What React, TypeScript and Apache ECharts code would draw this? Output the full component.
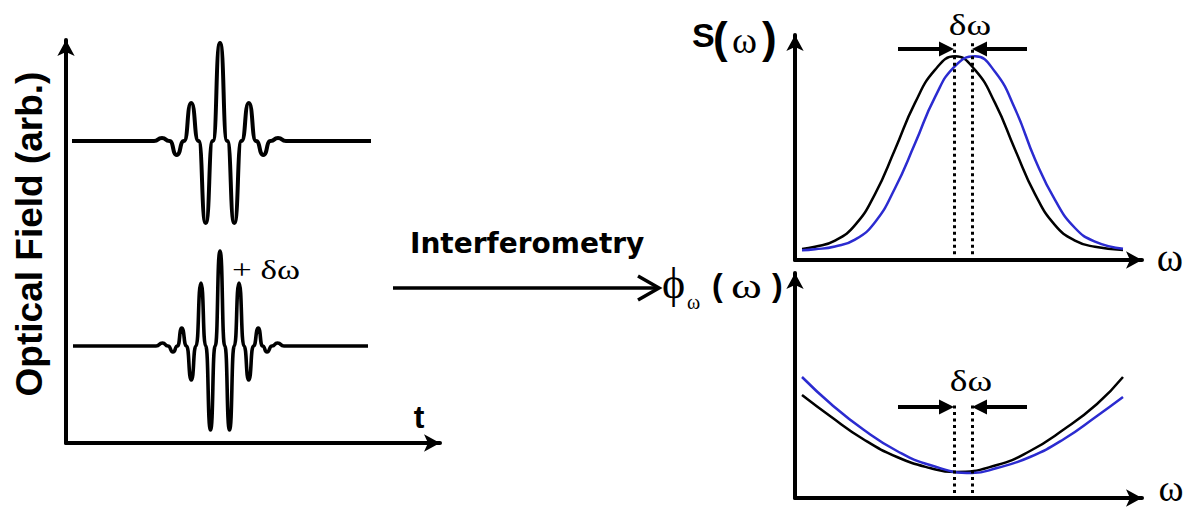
import React, { useEffect, useRef } from "react";
import * as echarts from "echarts";

// ---- Left panel: optical field pulses (t and field in arbitrary units) ----
const fieldTimeTop = [-14.8, -6.6, -5.8, -5.05, -4.33, -3.6, -2.88, -2.15, -1.43, -0.72, 0, 0.72, 1.43, 2.15, 2.88, 3.6, 4.33, 5.05, 5.8, 6.6, 15.1];
const fieldTop = [0, 0, 0.03, 0, -0.14, 0, 0.38, 0, -0.82, 0, 0.98, 0, -0.82, 0, 0.38, 0, -0.14, 0, 0.03, 0, 0];
const fieldTimeBottom = [-14.7, -6.4, -5.75, -5.2, -4.7, -4.25, -3.83, -3.35, -2.87, -2.4, -1.9, -1.43, -0.95, -0.48, 0, 0.48, 0.95, 1.43, 1.9, 2.4, 2.87, 3.35, 3.83, 4.25, 4.7, 5.2, 5.75, 6.4, 14.8];
const fieldBottom = [0, 0, 0.03, 0, -0.06, 0, 0.18, 0, -0.34, 0, 0.63, 0, -0.84, 0, 0.95, 0, -0.84, 0, 0.63, 0, -0.34, 0, 0.18, 0, -0.06, 0, 0.03, 0, 0];

// ---- Right top: spectra S(ω) ----
const omegaSpectrum = [0.7, 2, 4, 6, 8, 10, 12, 14, 16, 18, 20, 22, 24, 26, 28, 30, 32.8];
const spectrumRef = [0.057, 0.068, 0.1, 0.18, 0.34, 0.57, 0.81, 0.98, 1.05, 0.98, 0.81, 0.57, 0.34, 0.18, 0.1, 0.068, 0.052];
const spectrumShifted = [0.05, 0.055, 0.07, 0.105, 0.195, 0.37, 0.6, 0.84, 1.0, 1.05, 0.97, 0.78, 0.52, 0.31, 0.165, 0.095, 0.058];

// ---- Right bottom: spectral phase ϕω(ω) ----
const omegaPhaseRef = [0.7, 3.5, 6.8, 10.2, 13.5, 16.0, 20.2, 23.5, 26.8, 30.2, 32.8];
const phaseRef = [1.03, 0.82, 0.59, 0.41, 0.3, 0.26, 0.33, 0.47, 0.68, 0.94, 1.21];
const omegaPhaseShifted = [0.7, 3.6, 6.9, 10.2, 13.5, 17.7, 20.2, 23.5, 26.9, 30.2, 32.8];
const phaseShifted = [1.21, 0.94, 0.68, 0.47, 0.33, 0.25, 0.3, 0.41, 0.59, 0.82, 1.01];

// centre frequencies of the two pulses (δω between them)
const peakRef = 15.9;
const peakShifted = 17.7;

const BLUE = "#2b2bd0";
const SANS = '"Liberation Sans", Arial, sans-serif';
const SERIF = '"Liberation Serif", "Times New Roman", serif';
const VERD = '"DejaVu Sans", Verdana, sans-serif';

const zip = (xs: number[], ys: number[]) => xs.map((x, i) => [x, ys[i]]);

function arrowAxis(extra: any) {
  return {
    type: "value",
    axisLine: {
      show: true,
      onZero: false,
      symbol: ["none", "arrow"],
      symbolSize: [13, 16],
      lineStyle: { color: "#000", width: 4 },
    },
    axisTick: { show: false },
    axisLabel: { show: false },
    splitLine: { show: false },
    ...extra,
  };
}
function hiddenAxis(extra: any) {
  return { type: "value", show: false, splitLine: { show: false }, ...extra };
}

function txt(text: string, x: number, y: number, size: number, family: string, opts: any = {}) {
  const { weight = "normal", align = "left", scaleX = 1, rotation = 0 } = opts;
  return {
    type: "text",
    x,
    y,
    scaleX,
    rotation,
    silent: true,
    style: {
      text,
      fontSize: size,
      fontFamily: family,
      fontWeight: weight,
      fill: "#000",
      align,
      textAlign: align,
      verticalAlign: "middle",
      textVerticalAlign: "middle",
    },
  };
}

function buildOption() {
  const dotted = {
    silent: true,
    symbol: ["none", "none"],
    label: { show: false },
    itemStyle: { color: "#000" },
    lineStyle: { color: "#000", width: 3, type: [3, 3.5] },
  };
  const arrows = {
    silent: true,
    symbol: ["none", "triangle"],
    symbolSize: [15, 15],
    label: { show: false },
    itemStyle: { color: "#000" },
    lineStyle: { color: "#000", width: 4, type: "solid" },
  };
  const head = 0.75; // half arrow-head length in ω units
  return {
    animation: false,
    backgroundColor: "#fff",
    grid: [
      { left: 66, right: 752, top: 40, bottom: 65, outerBoundsMode: "none" },
      { left: 66, right: 760, top: 31, height: 220, outerBoundsMode: "none" },
      { left: 66, right: 760, top: 236, height: 220, outerBoundsMode: "none" },
      { left: 795, right: 50, top: 35, bottom: 248, outerBoundsMode: "none" },
      { left: 795, right: 50, top: 273, bottom: 10, outerBoundsMode: "none" },
    ],
    xAxis: [
      arrowAxis({ gridIndex: 0, min: 0, max: 1 }),
      hiddenAxis({ gridIndex: 1, min: -15.4, max: 21.2 }),
      hiddenAxis({ gridIndex: 2, min: -15.4, max: 21.2 }),
      arrowAxis({ gridIndex: 3, min: 0, max: 34.7 }),
      arrowAxis({ gridIndex: 4, min: 0, max: 34.7 }),
    ],
    yAxis: [
      arrowAxis({ gridIndex: 0, min: 0, max: 1 }),
      hiddenAxis({ gridIndex: 1, min: -1.1, max: 1.1 }),
      hiddenAxis({ gridIndex: 2, min: -1.1, max: 1.1 }),
      arrowAxis({ gridIndex: 3, min: 0, max: 1.16 }),
      arrowAxis({ gridIndex: 4, min: 0, max: 2.25 }),
    ],
    series: [
      {
        type: "line", xAxisIndex: 1, yAxisIndex: 1, silent: true,
        data: zip(fieldTimeTop, fieldTop), smooth: 0.62, smoothMonotone: "x", showSymbol: false,
        lineStyle: { color: "#000", width: 4 },
      },
      {
        type: "line", xAxisIndex: 2, yAxisIndex: 2, silent: true,
        data: zip(fieldTimeBottom, fieldBottom), smooth: 0.62, smoothMonotone: "x", showSymbol: false,
        lineStyle: { color: "#000", width: 3.6 },
      },
      {
        type: "line", xAxisIndex: 3, yAxisIndex: 3, silent: true,
        data: zip(omegaSpectrum, spectrumRef), smooth: 0.5, showSymbol: false,
        lineStyle: { color: "#000", width: 2.5 },
        markLine: {
          ...dotted,
          data: [
            [{ coord: [peakRef, 0.03] }, { coord: [peakRef, 1.13] }],
            [{ coord: [peakShifted, 0.03] }, { coord: [peakShifted, 1.13] }],
          ],
        },
      },
      {
        type: "line", xAxisIndex: 3, yAxisIndex: 3, silent: true,
        data: zip(omegaSpectrum, spectrumShifted), smooth: 0.5, showSymbol: false,
        lineStyle: { color: BLUE, width: 2.5 }, itemStyle: { color: BLUE },
        markLine: {
          ...arrows,
          data: [
            [{ coord: [10.3, 1.088] }, { coord: [peakRef - head, 1.088] }],
            [{ coord: [23.2, 1.088] }, { coord: [peakShifted + head, 1.088] }],
          ],
        },
      },
      {
        type: "line", xAxisIndex: 4, yAxisIndex: 4, silent: true,
        data: zip(omegaPhaseRef, phaseRef), smooth: 0.5, showSymbol: false,
        lineStyle: { color: "#000", width: 2.5 },
        markLine: {
          ...dotted,
          data: [
            [{ coord: [peakRef, 0.05] }, { coord: [peakRef, 0.96] }],
            [{ coord: [peakShifted, 0.05] }, { coord: [peakShifted, 0.96] }],
          ],
        },
      },
      {
        type: "line", xAxisIndex: 4, yAxisIndex: 4, silent: true,
        data: zip(omegaPhaseShifted, phaseShifted), smooth: 0.5, showSymbol: false,
        lineStyle: { color: BLUE, width: 2.5 }, itemStyle: { color: BLUE },
        markLine: {
          ...arrows,
          data: [
            [{ coord: [10.3, 0.91] }, { coord: [peakRef - head, 0.91] }],
            [{ coord: [23.2, 0.91] }, { coord: [peakShifted + head, 0.91] }],
          ],
        },
      },
    ],
    graphic: [
      txt("Optical Field (arb.)", 29.5, 234, 37, SANS, { weight: "bold", align: "center", rotation: Math.PI / 2 }),
      txt("+ δω", 232, 269.5, 28, SERIF, { scaleX: 1.25 }),
      txt("t", 419, 417, 32, SANS, { weight: "bold", align: "center" }),
      txt("Interferometry", 410, 243, 28, VERD, { weight: "bold" }),
      {
        type: "line", silent: true,
        shape: { x1: 393, y1: 288, x2: 656, y2: 288 },
        style: { stroke: "#000", lineWidth: 3.5 },
      },
      {
        type: "polyline", silent: true,
        shape: { points: [[638, 276], [659, 288], [638, 300]] },
        style: { stroke: "#000", lineWidth: 3.5, fill: null },
      },
      txt("S", 692, 35, 34, SANS, { weight: "bold" }),
      txt("(", 713, 37.6, 44, SANS, { weight: "bold" }),
      txt("ω", 732, 40, 38, SERIF),
      txt(")", 762, 37.6, 44, SANS, { weight: "bold" }),
      txt("δω", 970, 24.5, 30, SERIF, { align: "center", scaleX: 1.25 }),
      txt("ω", 1170, 257, 40, SERIF, { align: "center" }),
      txt("ϕ", 662, 283.4, 44, SERIF),
      txt("ω", 687, 302, 20, SERIF),
      txt("(", 712, 285, 32, SANS, { weight: "bold" }),
      txt("ω", 731, 286, 36, SERIF, { scaleX: 1.3 }),
      txt(")", 772, 285, 32, SANS, { weight: "bold" }),
      txt("δω", 971, 380.5, 30, SERIF, { align: "center", scaleX: 1.25 }),
      txt("ω", 1171, 488, 38, SERIF, { align: "center" }),
    ],
  };
}

export default function App() {
  const ref = useRef<HTMLDivElement>(null);
  useEffect(() => {
    if (!ref.current) return;
    const chart = echarts.init(ref.current, null, { renderer: "svg" });
    chart.setOption(buildOption() as any);
    return () => chart.dispose();
  }, []);
  return (
    <div
      ref={ref}
      style={{ position: "absolute", left: 0, top: 0, width: 1192, height: 508, background: "#fff" }}
    />
  );
}
